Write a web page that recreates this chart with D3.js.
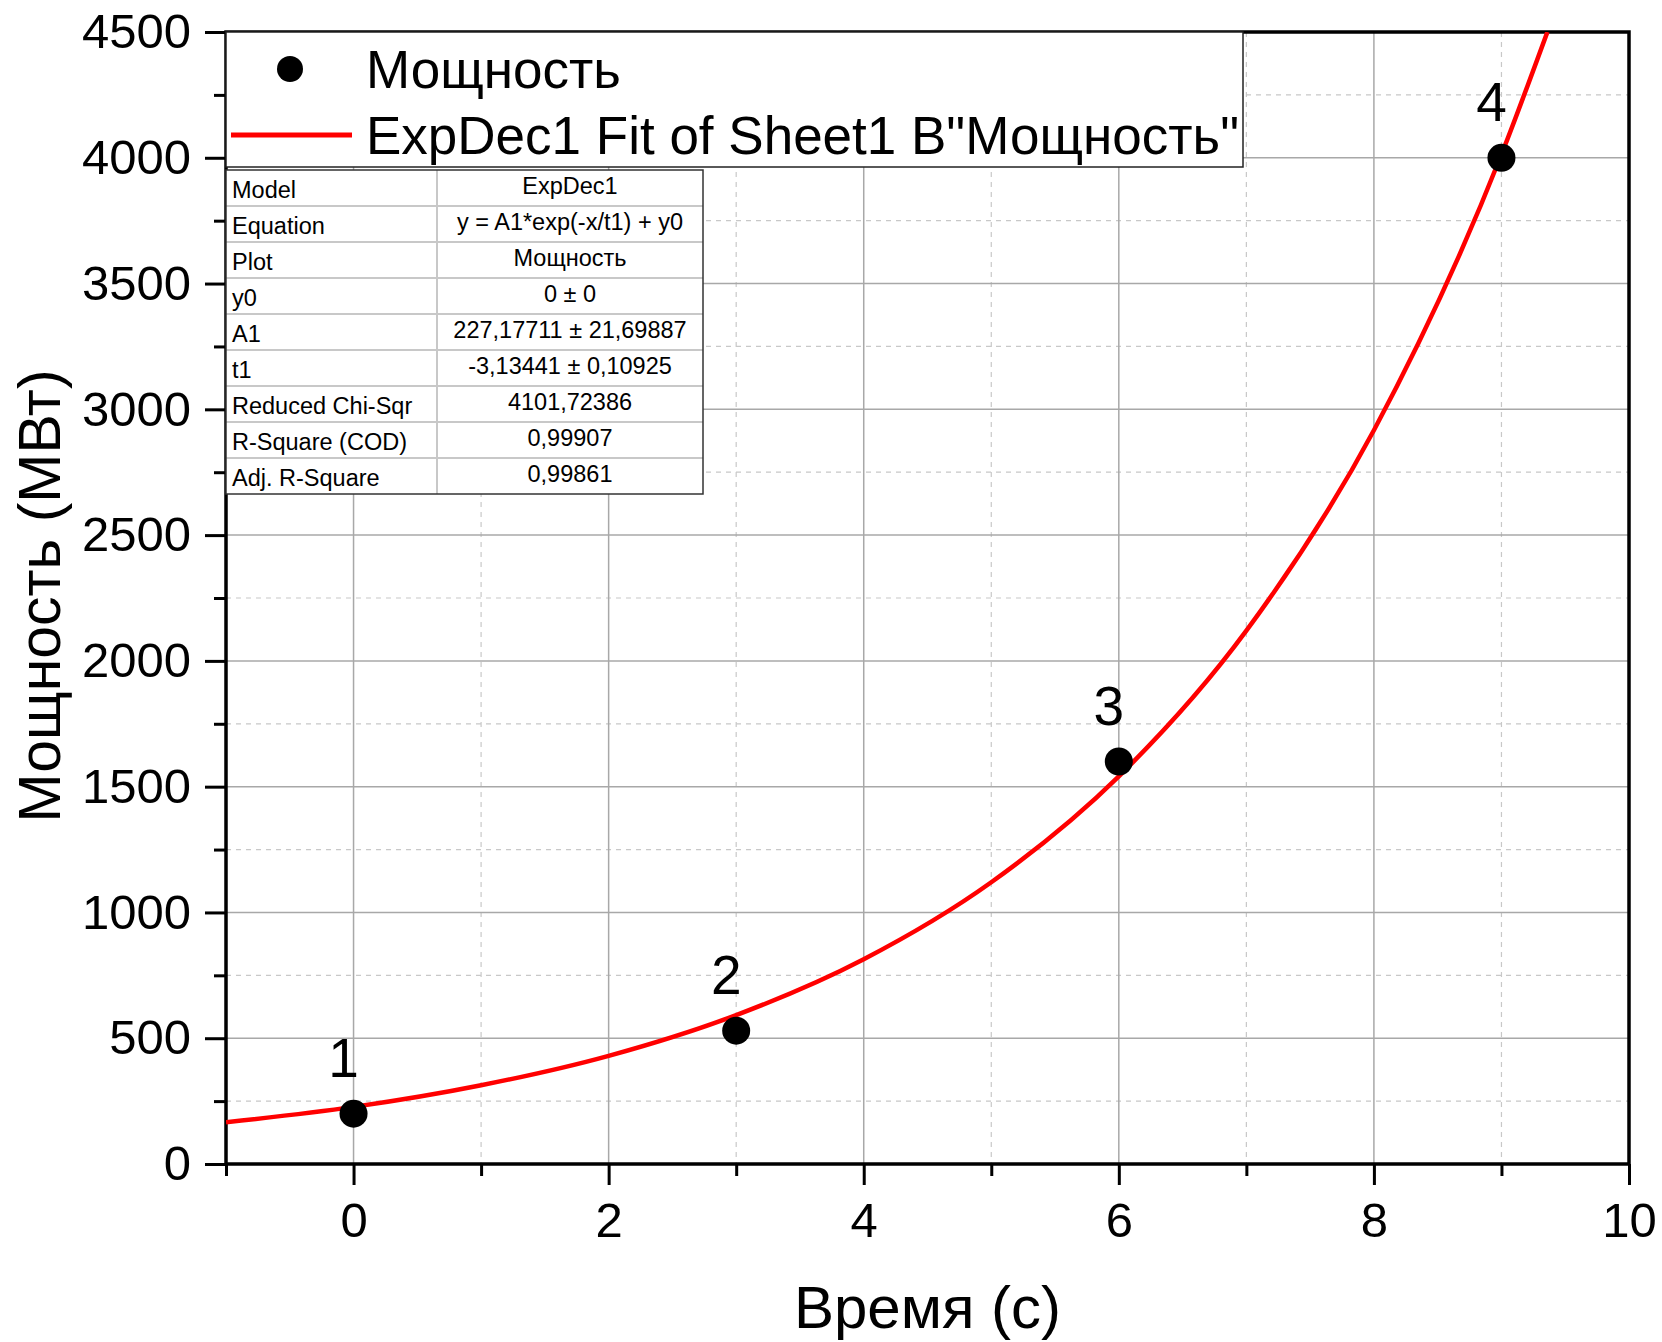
<!DOCTYPE html>
<html>
<head>
<meta charset="utf-8">
<script src="https://cdn.jsdelivr.net/npm/d3@7/dist/d3.min.js"></script>
<style>
  body { margin: 0; background: #fff; }
  svg { display: block; font-family: "Liberation Sans", Arial, sans-serif; }
</style>
</head>
<body>
<svg id="chart" width="1662" height="1342"></svg>
<script>
// measured points
var timeS = [0, 3, 6, 9];
var powerMW = [200, 530, 1600, 4000];
var pointLabels = ["1", "2", "3", "4"];

// fit curve
var fitX = [-1, 0, 1, 2, 3, 4, 5, 6, 7, 8, 9, 9.36];
var fitY = [166, 227, 313, 430, 592, 814, 1120, 1541, 2120, 2917, 4013, 4500];

var xMajor = [0, 2, 4, 6, 8, 10];
var xMinor = [-1, 1, 3, 5, 7, 9];
var yMajor = [0, 500, 1000, 1500, 2000, 2500, 3000, 3500, 4000, 4500];
var yMinor = [250, 750, 1250, 1750, 2250, 2750, 3250, 3750, 4250];

var tableNames = ["Model", "Equation", "Plot", "y0", "A1", "t1", "Reduced Chi-Sqr", "R-Square (COD)", "Adj. R-Square"];
var tableValues = ["ExpDec1", "y = A1*exp(-x/t1) + y0", "Мощность", "0 ± 0", "227,17711 ± 21,69887",
    "-3,13441 ± 0,10925", "4101,72386", "0,99907", "0,99861"];

var legendNames = ["Мощность", "ExpDec1 Fit of Sheet1 B\"Мощность\""];

var plotL = 226, plotR = 1629, plotT = 32, plotB = 1164;
var svg = d3.select("#chart");

var x = d3.scaleLinear().domain([-1, 10]).range([plotL, plotR]);
var y = d3.scaleLinear().domain([0, 4500]).range([plotB, plotT]);

// grid
var grid = svg.append("g");
grid.selectAll("line.vmin").data(xMinor).enter().append("line")
    .attr("x1", function (d) { return x(d); }).attr("x2", function (d) { return x(d); })
    .attr("y1", plotT).attr("y2", plotB)
    .attr("stroke", "#c8c8c8").attr("stroke-width", 1.2).attr("stroke-dasharray", "5,5");
grid.selectAll("line.hmin").data(yMinor).enter().append("line")
    .attr("y1", function (d) { return y(d); }).attr("y2", function (d) { return y(d); })
    .attr("x1", plotL).attr("x2", plotR)
    .attr("stroke", "#c8c8c8").attr("stroke-width", 1.2).attr("stroke-dasharray", "5,5");
grid.selectAll("line.vmaj").data(xMajor).enter().append("line")
    .attr("x1", function (d) { return x(d); }).attr("x2", function (d) { return x(d); })
    .attr("y1", plotT).attr("y2", plotB)
    .attr("stroke", "#a8a8a8").attr("stroke-width", 1.5);
grid.selectAll("line.hmaj").data(yMajor).enter().append("line")
    .attr("y1", function (d) { return y(d); }).attr("y2", function (d) { return y(d); })
    .attr("x1", plotL).attr("x2", plotR)
    .attr("stroke", "#a8a8a8").attr("stroke-width", 1.5);

// axes
var xAxis = svg.append("g").attr("transform", "translate(0," + plotB + ")")
    .call(d3.axisBottom(x).tickValues(xMajor).tickSize(21).tickPadding(17).tickFormat(d3.format("d")));
var xAxisMinor = svg.append("g").attr("transform", "translate(0," + plotB + ")")
    .call(d3.axisBottom(x).tickValues(xMinor).tickSize(12).tickFormat(""));
var yAxis = svg.append("g").attr("transform", "translate(" + plotL + ",0)")
    .call(d3.axisLeft(y).tickValues(yMajor).tickSize(21).tickPadding(14).tickFormat(d3.format("d")));
var yAxisMinor = svg.append("g").attr("transform", "translate(" + plotL + ",0)")
    .call(d3.axisLeft(y).tickValues(yMinor).tickSize(12).tickFormat(""));
[xAxis, xAxisMinor, yAxis, yAxisMinor].forEach(function (a) {
    a.select(".domain").remove();
    a.selectAll(".tick line").attr("stroke", "#000").attr("stroke-width", 3);
    a.selectAll(".tick text").attr("fill", "#000").style("font-size", "49px")
        .style("font-family", "Liberation Sans, Arial, sans-serif");
});

// frame
svg.append("rect").attr("x", plotL).attr("y", plotT)
    .attr("width", plotR - plotL).attr("height", plotB - plotT)
    .attr("fill", "none").attr("stroke", "#000").attr("stroke-width", 3.5);

// fit curve
svg.append("clipPath").attr("id", "plotClip").append("rect")
    .attr("x", plotL).attr("y", plotT).attr("width", plotR - plotL).attr("height", plotB - plotT);
var fitLine = d3.line()
    .x(function (d, i) { return x(fitX[i]); })
    .y(function (d) { return y(d); })
    .curve(d3.curveMonotoneX);
svg.append("path").attr("d", fitLine(fitY))
    .attr("clip-path", "url(#plotClip)")
    .attr("fill", "none").attr("stroke", "#ff0000").attr("stroke-width", 4.5);

// points
svg.selectAll("circle.pt").data(powerMW).enter().append("circle")
    .attr("cx", function (d, i) { return x(timeS[i]); })
    .attr("cy", function (d) { return y(d); })
    .attr("r", 14).attr("fill", "#000");
svg.selectAll("text.pl").data(powerMW).enter().append("text")
    .attr("x", function (d, i) { return x(timeS[i]) - 10; })
    .attr("y", function (d) { return y(d) - 37; })
    .attr("text-anchor", "middle").style("font-size", "55px").text(function (d, i) { return pointLabels[i]; });

// legend
var lg = svg.append("g");
lg.append("rect").attr("x", plotL).attr("y", plotT).attr("width", 1017).attr("height", 135)
    .attr("fill", "#fff").attr("stroke", "#222").attr("stroke-width", 1.5);
lg.append("circle").attr("cx", 290).attr("cy", 69).attr("r", 13).attr("fill", "#000");
lg.append("line").attr("x1", 231).attr("x2", 352).attr("y1", 135).attr("y2", 135)
    .attr("stroke", "#ff0000").attr("stroke-width", 5);
lg.selectAll("text").data(legendNames).enter().append("text")
    .attr("x", 366).attr("y", function (d, i) { return 88 + i * 66; })
    .style("font-size", "53px").text(function (d) { return d; });

// parameter table
var tx = plotL, ty = 170, rowH = 36, col1 = 211, col2 = 266;
var tb = svg.append("g");
tb.append("rect").attr("x", tx).attr("y", ty).attr("width", col1 + col2).attr("height", rowH * tableNames.length)
    .attr("fill", "#fff");
tb.selectAll("line.row").data(d3.range(1, tableNames.length)).enter().append("line")
    .attr("x1", tx).attr("x2", tx + col1 + col2)
    .attr("y1", function (d) { return ty + d * rowH; }).attr("y2", function (d) { return ty + d * rowH; })
    .attr("stroke", "#c8c8c8").attr("stroke-width", 2);
tb.append("line").attr("x1", tx + col1).attr("x2", tx + col1).attr("y1", ty).attr("y2", ty + rowH * tableNames.length)
    .attr("stroke", "#c8c8c8").attr("stroke-width", 2);
tb.append("rect").attr("x", tx).attr("y", ty).attr("width", col1 + col2).attr("height", rowH * tableNames.length)
    .attr("fill", "none").attr("stroke", "#333").attr("stroke-width", 1.5);
tb.selectAll("text.name").data(tableNames).enter().append("text")
    .attr("x", tx + 6).attr("y", function (d, i) { return ty + i * rowH + 28; })
    .style("font-size", "23.5px").text(function (d) { return d; });
tb.selectAll("text.val").data(tableValues).enter().append("text")
    .attr("x", tx + col1 + col2 / 2).attr("y", function (d, i) { return ty + i * rowH + 24; })
    .attr("text-anchor", "middle").style("font-size", "23.5px").text(function (d) { return d; });

// axis titles
svg.append("text").attr("x", x(4.5)).attr("y", 1328).attr("text-anchor", "middle")
    .style("font-size", "60px").text("Время (с)");
svg.append("text").attr("transform", "translate(60,596) rotate(-90)").attr("text-anchor", "middle")
    .style("font-size", "59px").text("Мощность (МВт)");
</script>
</body>
</html>
